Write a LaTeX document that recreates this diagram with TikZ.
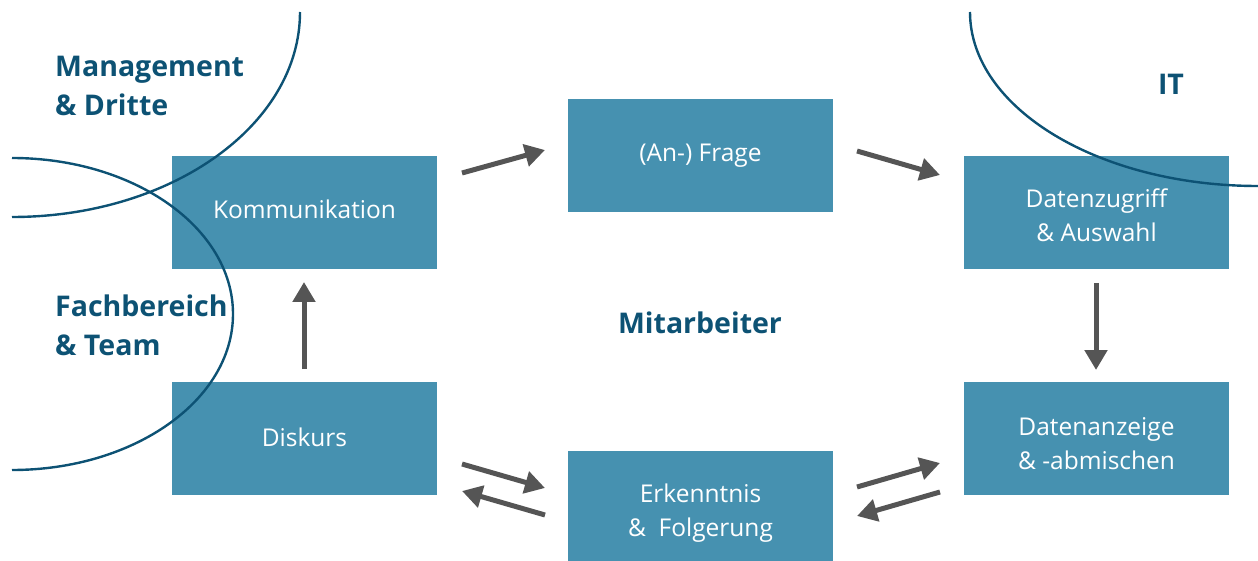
\documentclass[tikz,border=0pt]{standalone}
\usepackage{fontspec}
\setmainfont{Open Sans}
\usetikzlibrary{arrows.meta}
\definecolor{boxblue}{HTML}{4691B0}
\definecolor{darkblue}{HTML}{0D5274}
\definecolor{arrowgray}{HTML}{555555}

\begin{document}
\begin{tikzpicture}[x=1pt,y=-1pt,
  stepbox/.style={fill=boxblue, minimum width=265pt, minimum height=113pt,
    inner sep=0pt},
  steptext/.style={text=white, align=center, inner sep=0pt,
    font=\fontsize{24.5}{34}\selectfont},
  heading/.style={text=darkblue, align=left, inner sep=0pt, anchor=west,
    font=\bfseries\fontsize{28.5}{39}\selectfont},
  flow/.style={draw=arrowgray, line width=5pt,
    -{Triangle[length=20pt,width=22pt]}},
  region/.style={draw=darkblue, line width=2.4pt}]

\useasboundingbox (0,0) rectangle (1258,561);

% process steps (box with its caption as a centred label)
\node[stepbox, label={[steptext]center:Kommunikation\vphantom{g}}] (komm) at (304.5,212.5) {};
\node[stepbox, label={[steptext]center:(An-) Frage}] (frage) at (700.5,155.5) {};
\node[stepbox, label={[steptext, yshift=-3pt]center:{Datenzugriff\\ \& Auswahl}}] (zugriff) at (1096.5,212.5) {};
\node[stepbox, label={[steptext, yshift=-2pt]center:Diskurs\vphantom{g}}] (diskurs) at (304.5,438.5) {};
\node[stepbox, minimum height=110pt, label={[steptext, yshift=-7pt]center:{Erkenntnis\\ \&\ \ Folgerung}}] (erkennt) at (700.5,506) {};
\node[stepbox, label={[steptext, yshift=-5pt]center:{Datenanzeige\\ \& -abmischen}}] (anzeige) at (1096.5,438.5) {};

% group boundaries
\draw[region] (300,12) arc[start angle=0, end angle=90, x radius=288, y radius=205];
\draw[region] (12,158) arc[start angle=-90, end angle=90, x radius=221, y radius=156];
\draw[region] (970,12) arc[start angle=180, end angle=90, x radius=288, y radius=174];

% group labels
\node[heading] (mgmt) at (55,86) {Management\\ \& Dritte};
\node[heading] (fach) at (55,325) {Fachbereich\\ \& Team};
\node[heading, anchor=center] (it) at (1171,84) {IT};
\node[heading, anchor=center] (mit) at (700,323) {Mitarbeiter};

% arrow end points
\coordinate (k2f-a) at (462,173);  \coordinate (k2f-b) at (545,150);
\coordinate (f2z-a) at (857,151);  \coordinate (f2z-b) at (940,175);
\coordinate (z2a-a) at (1096,283); \coordinate (z2a-b) at (1096,370);
\coordinate (d2k-a) at (304,369);  \coordinate (d2k-b) at (304,282);
\coordinate (d2e-a) at (462,464);  \coordinate (d2e-b) at (545,488);
\coordinate (e2d-a) at (545,515);  \coordinate (e2d-b) at (462,491);
\coordinate (e2a-a) at (857,487);  \coordinate (e2a-b) at (940,463);
\coordinate (a2e-a) at (940,492);  \coordinate (a2e-b) at (857,516);

\draw[flow] (k2f-a) -- (k2f-b);
\draw[flow] (f2z-a) -- (f2z-b);
\draw[flow] (z2a-a) -- (z2a-b);
\draw[flow] (d2k-a) -- (d2k-b);
\draw[flow] (d2e-a) -- (d2e-b);
\draw[flow] (e2d-a) -- (e2d-b);
\draw[flow] (e2a-a) -- (e2a-b);
\draw[flow] (a2e-a) -- (a2e-b);
\end{tikzpicture}
\end{document}
